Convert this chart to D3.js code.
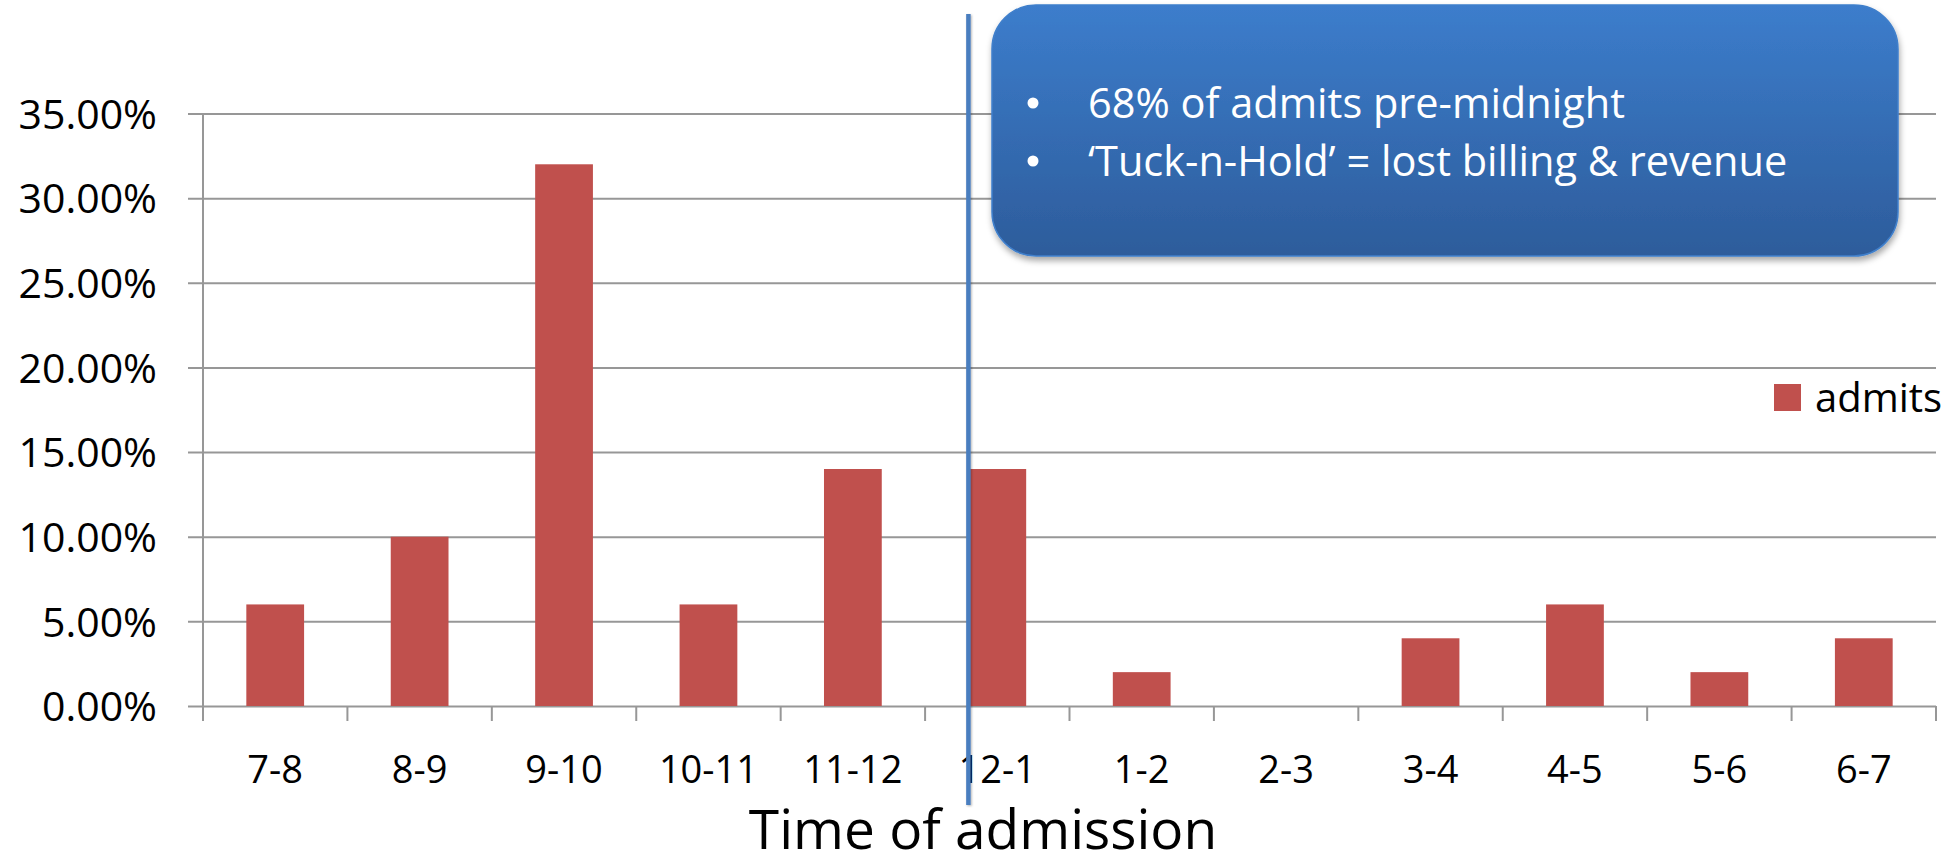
<!DOCTYPE html>
<html>
<head>
<meta charset="utf-8">
<script src="https://cdn.jsdelivr.net/npm/d3@7"></script>
<style>
  body { margin: 0; background: #fff; }
  svg { display: block; font-family: "Open Sans", sans-serif; }
</style>
</head>
<body>
<svg id="chart" width="1954" height="863"></svg>
<script>
// Share of admissions by hour of arrival
const hours = ["7-8", "8-9", "9-10", "10-11", "11-12", "12-1", "1-2", "2-3", "3-4", "4-5", "5-6", "6-7"];
const admits = [0.06, 0.10, 0.32, 0.06, 0.14, 0.14, 0.02, 0.00, 0.04, 0.06, 0.02, 0.04];
const yTicks = [0, 0.05, 0.10, 0.15, 0.20, 0.25, 0.30, 0.35];
const seriesName = "admits";
const xTitle = "Time of admission";
const midnightHour = "12-1";
const notes = ["68% of admits pre-midnight", "\u2018Tuck-n-Hold\u2019 = lost billing & revenue"];

const svg = d3.select("#chart");
const plotLeft = 203, plotRight = 1936, plotTop = 113.5, plotBottom = 706;

const x = d3.scaleBand().domain(hours).range([plotLeft, plotRight]);
const y = d3.scaleLinear().domain([0, 0.35]).range([plotBottom, plotTop]);
const bw = x.bandwidth();

const defs = svg.append("defs");
const grad = defs.append("linearGradient")
  .attr("id", "boxFill").attr("x1", 0).attr("y1", 0).attr("x2", 0).attr("y2", 1);
grad.append("stop").attr("offset", "0%").attr("stop-color", "#3C7DCC");
grad.append("stop").attr("offset", "100%").attr("stop-color", "#2D5C9B");
const shadow = defs.append("filter").attr("id", "shadow")
  .attr("x", "-5%").attr("y", "-5%").attr("width", "110%").attr("height", "115%");
shadow.append("feDropShadow").attr("dx", 1).attr("dy", 4).attr("stdDeviation", 3)
  .attr("flood-color", "#000").attr("flood-opacity", 0.35);
const lineShadow = defs.append("filter").attr("id", "lineShadow")
  .attr("filterUnits", "userSpaceOnUse")
  .attr("x", 950).attr("y", 0).attr("width", 40).attr("height", 830);
lineShadow.append("feDropShadow").attr("dx", 1).attr("dy", 1).attr("stdDeviation", 1.2)
  .attr("flood-color", "#000").attr("flood-opacity", 0.3);

// Horizontal gridlines and y tick labels
const yAxis = svg.append("g")
  .attr("transform", `translate(${plotLeft - 15},0)`)
  .call(d3.axisLeft(y).tickValues(yTicks).tickSize(-(plotRight - plotLeft + 15)).tickPadding(31)
    .tickFormat(d3.format(".2%")));
yAxis.select(".domain").remove();
yAxis.selectAll(".tick line").attr("stroke", "#979797").attr("stroke-width", 2);
yAxis.selectAll(".tick text").attr("fill", "#000").attr("font-size", 41)
  .attr("font-family", "'Open Sans', sans-serif").attr("dy", "0.36em");

// Vertical axis line
svg.append("line")
  .attr("x1", plotLeft).attr("x2", plotLeft).attr("y1", plotTop).attr("y2", plotBottom + 15)
  .attr("stroke", "#979797").attr("stroke-width", 2);

// Category tick marks at band edges
const edges = hours.map(h => x(h)).concat([x.range()[1]]);
svg.append("g").selectAll("line").data(edges).join("line")
  .attr("x1", d => d).attr("x2", d => d)
  .attr("y1", plotBottom).attr("y2", plotBottom + 15)
  .attr("stroke", "#979797").attr("stroke-width", 2);

// Bars
svg.append("g").selectAll("rect").data(hours).join("rect")
  .attr("x", (d) => x(d) + bw * 0.3)
  .attr("width", bw * 0.4)
  .attr("y", (d, i) => y(admits[i]))
  .attr("height", (d, i) => plotBottom - y(admits[i]))
  .attr("fill", "#C0504D");

// Category labels
const xAxis = svg.append("g")
  .attr("transform", `translate(0,${plotBottom})`)
  .call(d3.axisBottom(x).tickSize(0).tickPadding(0));
xAxis.select(".domain").remove();
xAxis.selectAll(".tick text").attr("fill", "#000").attr("font-size", 38)
  .attr("font-family", "'Open Sans', sans-serif").attr("y", 77).attr("dy", 0);

// Axis title
svg.append("text")
  .attr("x", 983).attr("y", 849)
  .attr("text-anchor", "middle").attr("font-size", 55).attr("fill", "#000")
  .text(xTitle);

// Legend
svg.append("rect").attr("x", 1774).attr("y", 384).attr("width", 27).attr("height", 27)
  .attr("fill", "#C0504D");
svg.append("text").attr("x", 1815).attr("y", 412).attr("font-size", 40).attr("fill", "#000")
  .text(seriesName);

// Midnight marker at the start of the 12-1 bar
const mx = x(midnightHour) + bw * 0.3;
svg.append("line")
  .attr("x1", mx).attr("x2", mx).attr("y1", 14).attr("y2", 805)
  .attr("stroke", "#4A7EBF").attr("stroke-width", 4.5)
  .attr("filter", "url(#lineShadow)");

// Callout with bulleted notes
const callout = svg.append("g");
callout.append("rect")
  .attr("x", 992).attr("y", 5).attr("width", 906).attr("height", 251).attr("rx", 44)
  .attr("fill", "url(#boxFill)").attr("stroke", "#3F7FCB").attr("stroke-width", 1.5)
  .attr("filter", "url(#shadow)");
callout.selectAll("circle.bullet").data(notes).join("circle")
  .attr("class", "bullet")
  .attr("cx", 1033).attr("cy", (d, i) => 103 + i * 58)
  .attr("r", 5.5).attr("fill", "#fff");
callout.selectAll("text.note").data(notes).join("text")
  .attr("class", "note")
  .attr("x", 1088).attr("y", (d, i) => 118 + i * 58)
  .attr("font-size", 41.5).attr("fill", "#fff")
  .text(d => d);
</script>
</body>
</html>
